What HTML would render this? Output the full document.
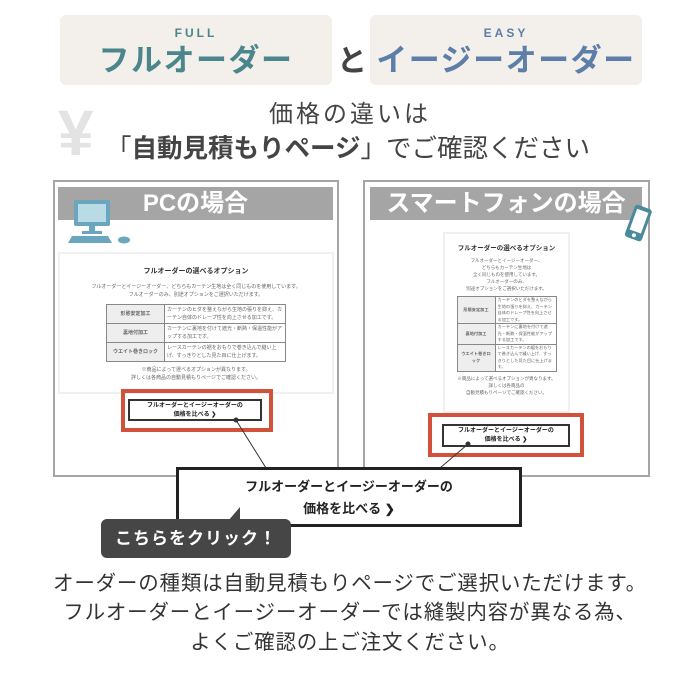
<!DOCTYPE html>
<html><head><meta charset="utf-8"><style>
*{margin:0;padding:0;box-sizing:border-box}
body{width:700px;height:684px;background:#fff;position:relative;overflow:hidden;font-family:"Liberation Sans","Noto Sans CJK JP",sans-serif;color:#333}
.a{position:absolute}
.tb{background:#f3efeb;border-radius:6px;text-align:center}
.sm{font-size:12px;letter-spacing:3px;font-weight:bold;line-height:12px}
.big{font-size:31px;font-weight:bold;line-height:34px;letter-spacing:1.5px}
.panel{border:2px solid #a5a5a5;background:#fff}
.hdr{background:#a5a5a5;color:#fff;font-weight:bold;font-size:24px;line-height:33px;text-align:center}
.card{border:2px solid #f0f0f0;background:#fff;text-align:center;font-size:5px;color:#666}
.red{border:4px solid #d2513a}
.btn{border:2px solid #333;background:#fff;text-align:center;font-size:6px;font-weight:bold;line-height:9px;color:#222;padding-top:1px}
table{border-collapse:collapse;font-size:5px}
td{border:1px solid #888;padding:1px 2px;line-height:8px;text-align:left}
td.h{background:#eee;font-weight:bold;text-align:center}
.ph td{font-size:4.2px;line-height:6.5px;padding:0 2px}
.bt{font-size:20.5px;line-height:29px;text-align:center;left:0;width:700px;letter-spacing:.8px;color:#333;white-space:nowrap}
</style></head><body>
<div class="a tb" style="left:60px;top:15px;width:272px;height:70px">
 <div class="sm" style="color:#4a868b;margin-top:12px">FULL</div>
 <div class="big" style="color:#4a868b;margin-top:5px">フルオーダー</div></div>
<div class="a" style="left:337px;top:36px;font-size:30px;font-weight:bold;color:#444">と</div>
<div class="a tb" style="left:370px;top:15px;width:272px;height:70px">
 <div class="sm" style="color:#5d7ea8;margin-top:12px">EASY</div>
 <div class="big" style="color:#5d7ea8;margin-top:5px">イージーオーダー</div></div>
<div class="a" style="left:58px;top:98px;font-size:64px;font-weight:bold;color:#e3e3e3;line-height:70px">¥</div>
<div class="a" style="left:0;width:700px;top:100px;text-align:center;font-size:24px;letter-spacing:3px;color:#444;line-height:30px">価格の違いは</div>
<div class="a" style="left:106px;top:133px;font-size:25.5px;color:#444;line-height:32px;white-space:nowrap">「<b>自動見積もりページ</b>」でご確認ください</div>

<div class="a panel" style="left:53px;top:180px;width:286px;height:297px"></div>
<div class="a hdr" style="left:58px;top:187px;width:275px">PCの場合</div>
<svg class="a" style="left:66px;top:198px" width="66" height="46"><rect x="8" y="2" width="36" height="26" rx="2" fill="#6aa6bd"/><rect x="12" y="6" width="28" height="18" fill="#b9dbe6"/><rect x="23" y="28" width="6" height="6" fill="#6aa6bd"/><rect x="16" y="33" width="20" height="3" fill="#6aa6bd"/><path d="M6 38h36l4 7H2z" fill="#6aa6bd"/><ellipse cx="58" cy="42" rx="6" ry="3.5" fill="#6aa6bd"/></svg>
<div class="a card" style="left:58px;top:252px;width:276px;height:142px">
 <div style="font-size:7px;font-weight:bold;color:#333;margin-top:12px">フルオーダーの選べるオプション</div>
 <div style="margin-top:7px;line-height:8px">フルオーダーとイージーオーダー、どちらもカーテン生地は全く同じものを使用しています。<br>フルオーダーのみ、別途オプションをご選択いただけます。</div>
 <table style="margin:5px auto 0;width:180px"><tr><td class="h" style="width:58px">形態安定加工</td><td>カーテンのヒダを整えながら生地の張りを抑え、カーテン自体のドレープ性を向上させる加工です。</td></tr><tr><td class="h">裏地付加工</td><td>カーテンに裏地を付けて遮光・断熱・保温性能がアップする加工です。</td></tr><tr><td class="h">ウエイト巻きロック</td><td>レースカーテンの裾をおもりで巻き込んで縫い上げ、すっきりとした見た目に仕上げます。</td></tr></table>
 <div style="margin-top:4px;line-height:8px">※商品によって選べるオプションが異なります。<br>詳しくは各商品の自動見積もりページでご確認ください。</div></div>
<div class="a red" style="left:121px;top:389px;width:152px;height:43px"></div>
<div class="a btn" style="left:128px;top:399px;width:134px;height:22px">フルオーダーとイージーオーダーの<br>価格を比べる ❯</div>

<div class="a panel" style="left:363px;top:180px;width:287px;height:297px"></div>
<div class="a hdr" style="left:370px;top:187px;width:272px">スマートフォンの場合</div>
<svg class="a" style="left:620px;top:203px" width="36" height="42"><g transform="rotate(20 18 21)"><rect x="9" y="3" width="18" height="34" rx="3" fill="#4a8a9a"/><rect x="12" y="7" width="12" height="22" fill="#fff"/><circle cx="18" cy="33" r="2" fill="#fff"/></g></svg>
<div class="a card" style="left:443px;top:232px;width:127px;height:181px;font-size:4.5px">
 <div style="font-size:6.5px;font-weight:bold;color:#333;margin-top:8px">フルオーダーの選べるオプション</div>
 <div style="margin-top:5px;line-height:7px">フルオーダーとイージーオーダー、<br>どちらもカーテン生地は<br>全く同じものを使用しています。<br>フルオーダーのみ、<br>別途オプションをご選択いただけます。</div>
 <table class="ph" style="margin:4px auto 0;width:100px"><tr><td class="h" style="width:38px">形態安定加工</td><td>カーテンのヒダを整えながら生地の張りを抑え、カーテン自体のドレープ性を向上させる加工です。</td></tr><tr><td class="h">裏地付加工</td><td>カーテンに裏地を付けて遮光・断熱・保温性能がアップする加工です。</td></tr><tr><td class="h">ウエイト巻きロック</td><td>レースカーテンの裾をおもりで巻き込んで縫い上げ、すっきりとした見た目に仕上げます。</td></tr></table>
 <div style="margin-top:3px;line-height:7px">※商品によって選べるオプションが異なります。<br>詳しくは各商品の<br>自動見積もりページでご確認ください。</div></div>
<div class="a red" style="left:428px;top:413px;width:156px;height:44px"></div>
<div class="a btn" style="left:442px;top:424px;width:128px;height:23px">フルオーダーとイージーオーダーの<br>価格を比べる ❯</div>

<svg class="a" style="left:0;top:0" width="700" height="684"><line x1="236" y1="420" x2="266" y2="468" stroke="#333" stroke-width="1"/><circle cx="236" cy="420" r="2.5" fill="#333"/><line x1="468" y1="444" x2="440" y2="468" stroke="#333" stroke-width="1"/><circle cx="468" cy="444" r="2.5" fill="#333"/></svg>

<div class="a" style="left:176px;top:467px;width:346px;height:60px;border:3px solid #222;background:#fff;text-align:center;font-size:13px;font-weight:bold;line-height:22px;padding-top:6px;color:#222">フルオーダーとイージーオーダーの<br>価格を比べる <span style="font-size:12px">❯</span></div>
<svg class="a" style="left:225px;top:507px" width="20" height="14"><path d="M3 14L15 0V14z" fill="#464646"/></svg>
<div class="a" style="left:101px;top:519px;width:190px;height:39px;background:#464646;border-radius:6px;color:#fff;font-size:17px;font-weight:bold;text-align:center;line-height:39px;letter-spacing:1px">こちらをクリック！</div>

<div class="a bt" style="top:569px">オーダーの種類は自動見積もりページでご選択いただけます。</div>
<div class="a bt" style="top:598px">フルオーダーとイージーオーダーでは縫製内容が異なる為、</div>
<div class="a bt" style="top:628px">よくご確認の上ご注文ください。</div>
</body></html>
